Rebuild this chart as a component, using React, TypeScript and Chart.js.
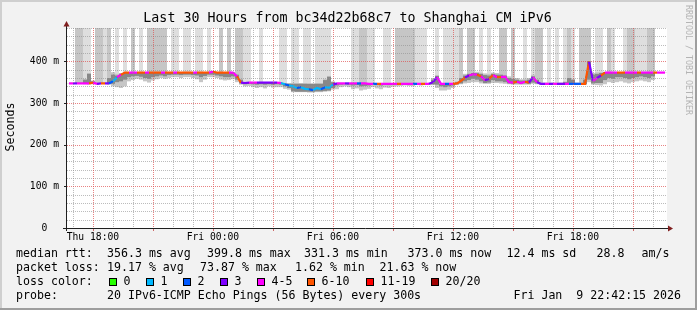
import React, { useEffect, useRef } from 'react';
import { Chart, registerables } from 'chart.js';

Chart.register(...registerables);

const FONT = "'DejaVu Sans Mono', 'Liberation Mono', monospace";

// ---- time axis (minutes since window start, Thu 16:42:15) ----
const windowMinutes = 1800;
const binMinutes = 12;
const firstHourOffset = 17.75; // Thu 17:00
const tickLabels = ['Thu 18:00', 'Fri 00:00', 'Fri 06:00', 'Fri 12:00', 'Fri 18:00'];
const tickLabelHours = [1, 7, 13, 19, 25];

// ---- values (ms) per 12-minute bin ----
const median = [
  347,347,347,347,347,347,349,346,347,347,347,352,362,368,373,
  373,373,373,373,373,373,373,373,373,373,373,373,373,373,373,
  373,373,373,373,373,373,375,373,373,373,373,373,364,349,348,
  349,349,349,349,349,349,349,349,348,345,342,340,336,338,334,
  333,331,336,333,338,337,344,347,347,347,347,347,347,347,347,
  346,346,346,346,346,346,346,346,346,346,346,346,346,346,346,
  346,350,362,346,346,346,346,347,353,361,366,369,368,364,355,
  358,367,362,362,363,350,349,351,348,351,349,362,350,346,346,
  346,346,346,346,346,346,346,346,346,346,399,353,360,366,373,
  373,373,373,373,373,373,373,373,373,373,373,373,373,373,373,
];

// lost pings (of 20) per bin
const loss = [
  7,4,3,4,4,4,7,4,3,7,3,2,1,4,7,
  7,4,4,7,7,4,7,7,7,4,7,7,4,7,7,
  7,7,4,7,7,7,4,7,7,7,7,4,4,7,3,
  3,4,4,3,3,3,3,3,4,1,2,1,1,2,1,
  1,2,1,1,2,1,1,3,4,4,3,4,4,2,4,
  4,4,2,7,4,4,4,4,7,4,4,4,2,4,7,
  4,3,3,4,4,2,4,7,7,7,3,4,4,7,4,
  3,7,4,7,4,4,4,7,4,4,7,3,4,3,3,
  4,3,4,3,3,4,2,2,2,7,7,3,4,3,7,
  4,4,4,7,7,4,4,4,7,4,4,4,7,4,4,
];

// pings beyond the top of the graph: 0 none, 1 few, 2 many
const offTop = [
  0,0,2,2,1,1,0,2,2,1,2,0,1,0,1,
  0,2,0,1,0,2,2,2,2,2,0,1,1,0,1,
  1,0,1,1,0,1,0,0,2,0,2,0,2,2,1,
  1,0,0,1,0,0,0,0,1,1,0,1,1,0,1,
  1,0,1,1,1,1,0,0,0,0,0,1,1,2,2,
  1,1,0,0,1,1,0,2,2,2,2,2,1,1,1,
  0,0,1,0,1,1,1,1,2,0,2,2,0,1,0,
  1,0,0,2,2,0,2,0,0,1,0,1,2,2,0,
  1,0,1,0,1,2,1,0,2,2,2,0,1,1,0,
  2,1,0,0,1,2,2,1,1,1,2,2,0,0,0,
];

const smokeLo = [
  346,346,346,346,345,344,345,345,346,346,344,340,338,336,340,
  352,355,358,356,352,349,354,357,360,358,360,362,362,360,362,
  362,360,357,350,356,362,362,360,356,354,355,357,350,344,340,
  341,338,336,338,335,340,337,338,338,334,332,326,326,326,326,
  325,325,326,326,327,328,332,333,338,340,338,333,335,330,332,
  334,338,335,333,337,336,339,340,341,342,341,340,343,342,343,
  343,343,336,330,330,332,336,343,345,347,348,350,350,347,346,
  346,348,348,347,346,345,344,344,344,344,344,346,345,344,344,
  344,344,344,344,344,344,344,344,344,344,350,344,343,342,345,
  350,348,350,352,349,347,350,352,354,352,350,355,372,372,372,
];

const coreLo = [
  347,347,347,347,346,346,347,346,347,347,346,346,350,352,356,
  362,364,365,363,360,358,362,364,366,364,367,368,368,367,368,
  368,367,366,362,365,368,368,366,364,362,362,364,356,347,345,
  346,345,344,345,344,345,344,345,344,340,336,328,327,327,327,
  327,327,328,328,329,330,336,342,344,345,344,342,343,340,341,
  342,344,343,342,344,343,344,345,345,345,345,345,345,345,345,
  345,345,344,340,338,340,342,345,347,352,355,358,356,352,348,
  349,355,352,352,350,347,346,347,346,347,346,349,347,345,345,
  345,345,345,345,345,345,345,345,345,345,356,347,348,348,355,
  360,358,362,362,360,357,360,362,364,362,360,364,373,373,373,
];

const coreHi = [
  347,347,347,347,356,370,352,346,347,347,360,368,366,370,373,
  373,373,373,373,373,373,373,373,373,373,373,373,373,373,373,
  373,373,373,373,373,373,375,373,373,373,373,373,368,356,349,
  349,349,349,349,349,349,349,349,348,346,346,346,346,346,346,
  346,346,346,346,355,363,350,347,347,347,347,347,347,347,347,
  346,346,346,346,346,346,346,346,346,346,346,346,346,346,346,
  346,356,365,346,346,346,346,350,360,366,370,372,372,370,367,
  366,370,368,368,366,360,358,356,354,354,356,364,356,348,348,
  348,348,348,348,350,360,356,348,348,356,400,368,370,372,374,
  373,373,373,373,373,373,373,373,373,373,373,373,373,373,373,
];

const smokeHi = [
  347,347,347,347,358,372,354,346,347,347,372,374,370,372,374,
  374,374,374,374,374,374,374,374,374,374,374,374,374,374,374,
  374,374,374,374,374,374,376,374,374,374,374,374,372,360,350,
  350,350,350,350,350,350,350,350,349,348,348,348,348,348,348,
  347,347,348,348,358,365,352,348,348,348,348,348,348,348,348,
  347,347,347,347,347,347,347,347,347,347,347,347,347,347,347,
  347,360,367,347,347,347,347,352,364,370,373,375,375,373,371,
  370,373,372,371,369,364,362,360,357,358,360,368,360,350,349,
  349,349,349,349,352,362,358,349,349,360,402,372,374,375,375,
  374,374,374,374,374,374,374,374,374,374,374,374,373,373,373,
];

const yMax = 480;
const yStep = 20;

const lossColor = (n: number) => {
  if (n <= 0) return '#26ff00';
  if (n === 1) return '#00b8ff';
  if (n === 2) return '#0059ff';
  if (n === 3) return '#7e00ff';
  if (n <= 5) return '#ff00ff';
  if (n <= 10) return '#ff5500';
  if (n <= 19) return '#ff0000';
  return '#a00000';
};

const legendBoxes = [
  { label: '0', color: '#26ff00', x: 109 },
  { label: '1', color: '#00b8ff', x: 146 },
  { label: '2', color: '#0059ff', x: 183 },
  { label: '3', color: '#7e00ff', x: 220 },
  { label: '4-5', color: '#ff00ff', x: 257 },
  { label: '6-10', color: '#ff5500', x: 307 },
  { label: '11-19', color: '#ff0000', x: 366 },
  { label: '20/20', color: '#a00000', x: 431 },
];

const xs = median.map((_, i) => i * binMinutes + binMinutes / 2);

const hourTicks: number[] = [];
for (let t = firstHourOffset; t <= windowMinutes; t += 60) hourTicks.push(t);
const hourIndex = (v: number) => Math.round((v - firstHourOffset) / 60);
const isMajorHour = (v: number) => (hourIndex(v) - 1) % 3 === 0;

const MINOR = 'rgba(143,143,143,0.6)';
const MAJOR = 'rgba(222,79,79,0.7)';

const framePlugin = {
  id: 'frame',
  beforeDraw(chart: any) {
    const { ctx, chartArea: a, width, height } = chart;
    ctx.save();
    ctx.fillStyle = '#f2f2f2';
    ctx.fillRect(0, 0, width, height);
    ctx.fillStyle = '#cfcfcf';
    ctx.fillRect(0, 0, width, 2);
    ctx.fillRect(0, 0, 2, height);
    ctx.fillStyle = '#9e9e9e';
    ctx.fillRect(0, height - 2, width, 2);
    ctx.fillRect(width - 2, 0, 2, height);
    ctx.fillStyle = '#ffffff';
    ctx.fillRect(a.left, a.top, a.right - a.left, a.bottom - a.top);
    ctx.restore();
  },
  afterDatasetsDraw(chart: any) {
    // dotted rrdtool-style grid (1 on / 1 off), drawn over the smoke
    const { ctx, chartArea: a, scales } = chart;
    const xS = scales.x;
    const yS = scales.y;
    const top = Math.round(a.top);
    const bottom = Math.round(a.bottom);
    const left = Math.round(a.left);
    const right = Math.round(a.right);
    ctx.save();
    const vLine = (px: number) => {
      for (let y = top; y < bottom; y += 2) ctx.fillRect(px, y, 1, 1);
    };
    const hLine = (py: number) => {
      for (let x = left; x < right; x += 2) ctx.fillRect(x, py, 1, 1);
    };
    [false, true].forEach((major) => {
      ctx.fillStyle = major ? MAJOR : MINOR;
      hourTicks.forEach((v) => {
        if (isMajorHour(v) === major) vLine(Math.round(xS.getPixelForValue(v)));
      });
      for (let v = yStep; v <= yMax; v += yStep) {
        if ((v % 100 === 0) === major) hLine(Math.round(yS.getPixelForValue(v)));
      }
    });
    // small tick marks on the axes
    ctx.fillStyle = 'rgba(200,80,80,0.85)';
    hourTicks.forEach((v) => {
      if (isMajorHour(v)) ctx.fillRect(Math.round(xS.getPixelForValue(v)), bottom, 1, 3);
    });
    ctx.fillStyle = '#1f1f1f';
    for (let v = 100; v <= yMax; v += 100) {
      ctx.fillRect(left - 3, Math.round(yS.getPixelForValue(v)), 3, 1);
    }
    ctx.restore();
  },
  afterDraw(chart: any) {
    const { ctx, chartArea: a } = chart;
    ctx.save();
    // axes
    ctx.strokeStyle = '#1f1f1f';
    ctx.lineWidth = 1;
    ctx.beginPath();
    ctx.moveTo(a.left - 0.5, a.bottom + 3);
    ctx.lineTo(a.left - 0.5, a.top - 2);
    ctx.moveTo(a.left - 4, a.bottom + 0.5);
    ctx.lineTo(a.right + 1, a.bottom + 0.5);
    ctx.stroke();
    ctx.fillStyle = '#801f1f';
    ctx.beginPath();
    ctx.moveTo(a.left - 3.5, a.top - 1.5);
    ctx.lineTo(a.left + 2.5, a.top - 1.5);
    ctx.lineTo(a.left - 0.5, a.top - 7);
    ctx.closePath();
    ctx.fill();
    ctx.beginPath();
    ctx.moveTo(a.right + 1, a.bottom - 2.5);
    ctx.lineTo(a.right + 1, a.bottom + 3.5);
    ctx.lineTo(a.right + 6, a.bottom + 0.5);
    ctx.closePath();
    ctx.fill();

    // title
    ctx.fillStyle = '#000';
    ctx.textBaseline = 'middle';
    ctx.textAlign = 'center';
    ctx.font = `13.3px ${FONT}`;
    ctx.fillText('Last 30 Hours from bc34d22b68c7 to Shanghai CM iPv6', 347.5, 19);

    // y title
    ctx.save();
    ctx.translate(10.5, 127);
    ctx.rotate(-Math.PI / 2);
    ctx.font = `11.6px ${FONT}`;
    ctx.fillText('Seconds', 0, 0);
    ctx.restore();

    // watermark
    ctx.save();
    ctx.translate(688.5, 60);
    ctx.rotate(Math.PI / 2);
    ctx.font = `8.3px ${FONT}`;
    ctx.fillStyle = '#b4b4b4';
    ctx.fillText('RRDTOOL / TOBI OETIKER', 0, 0);
    ctx.restore();

    // legend
    ctx.textAlign = 'left';
    ctx.font = `11.6px ${FONT}`;
    ctx.fillStyle = '#000';
    const row = (y: number, parts: [string, number][]) => parts.forEach(([t, x]) => ctx.fillText(t, x, y));
    row(254, [['median rtt:', 16], ['356.3 ms avg', 107], ['399.8 ms max', 207], ['331.3 ms min', 304], ['373.0 ms now', 407.5], ['12.4 ms sd', 506.5], ['28.8', 596.5], ['am/s', 641.5]]);
    row(268, [['packet loss:', 16], ['19.17 % avg', 107], ['73.87 % max', 200], ['1.62 % min', 295], ['21.63 % now', 379.5]]);
    row(282, [['loss color:', 16]]);
    legendBoxes.forEach((b) => {
      ctx.fillStyle = b.color;
      ctx.fillRect(b.x, 278, 8, 8);
      ctx.strokeStyle = '#000';
      ctx.strokeRect(b.x + 0.5, 278.5, 7, 7);
      ctx.fillStyle = '#000';
      ctx.fillText(b.label, b.x + 14.5, 282);
    });
    row(296, [['probe:', 16], ['20 IPv6-ICMP Echo Pings (56 Bytes) every 300s', 107]]);
    ctx.textAlign = 'right';
    ctx.fillText('Fri Jan  9 22:42:15 2026', 681, 296);
    ctx.restore();
  },
};

const floatBars = (ranges: ([number, number] | null)[], color: string, order: number) => ({
  type: 'bar' as const,
  data: ranges
    .map((r, i) => (r ? { x: xs[i], y: r } : null))
    .filter((d) => d !== null),
  backgroundColor: color,
  borderWidth: 0,
  barThickness: 4,
  grouped: false,
  inflateAmount: 0,
  order,
});

export default function App() {
  const ref = useRef<HTMLCanvasElement>(null);

  useEffect(() => {
    document.body.style.margin = '0';
    const canvas = ref.current;
    if (!canvas) return;

    const tallAny = median.map((m, i) => (offTop[i] >= 1 ? ([m, yMax + 10] as [number, number]) : null));
    const tallMany = median.map((m, i) => (offTop[i] >= 2 ? ([m, yMax + 10] as [number, number]) : null));
    const light = smokeLo.map((lo, i) => (smokeHi[i] > lo ? ([lo, smokeHi[i]] as [number, number]) : null));
    const core = coreLo.map((lo, i) => (coreHi[i] > lo ? ([lo, coreHi[i]] as [number, number]) : null));
    const medPts = median.map((m, i) => ({ x: xs[i], y: m }));

    const chart = new Chart(canvas, {
      type: 'bar',
      data: {
        datasets: [
          {
            type: 'line',
            data: medPts,
            borderColor: '#ff00ff',
            borderWidth: 2.2,
            pointRadius: 0,
            tension: 0,
            segment: { borderColor: (c: any) => lossColor(loss[c.p1DataIndex]) },
            order: 0,
          } as any,
          {
            type: 'line',
            data: medPts,
            borderColor: '#202020',
            borderWidth: 1,
            pointRadius: 0,
            tension: 0,
            order: 1,
          } as any,
          floatBars(core, '#888888', 2) as any,
          floatBars(light, '#c6c6c6', 3) as any,
          floatBars(tallMany, '#c6c6c6', 4) as any,
          floatBars(tallAny, '#dedede', 5) as any,
        ],
      },
      options: {
        responsive: false,
        animation: false,
        devicePixelRatio: 1,
        events: [],
        layout: { padding: { left: 0, top: 28, right: 30, bottom: 0 } },
        plugins: { legend: { display: false }, tooltip: { enabled: false }, title: { display: false } },
        scales: {
          x: {
            type: 'linear',
            min: 0,
            max: windowMinutes,
            offset: false,
            afterFit: (s: any) => { s.height = 82; },
            afterBuildTicks: (s: any) => { s.ticks = hourTicks.map((v) => ({ value: v })); },
            ticks: {
              autoSkip: false,
              maxRotation: 0,
              minRotation: 0,
              padding: 1,
              color: '#000',
              font: { family: FONT, size: 9.7 },
              callback: (v: any) => {
                const k = tickLabelHours.indexOf(hourIndex(Number(v)));
                return k >= 0 ? tickLabels[k] : '';
              },
            },
            grid: { offset: false, tickLength: 3, color: 'rgba(0,0,0,0)', tickColor: 'rgba(0,0,0,0)' },
            border: { display: false },
          },
          y: {
            type: 'linear',
            min: 0,
            max: yMax,
            afterFit: (s: any) => { s.width = 67; },
            ticks: {
              stepSize: yStep,
              autoSkip: false,
              padding: 5,
              color: '#000',
              font: { family: FONT, size: 9.7 },
              callback: (v: any) => {
                const n = Number(v);
                if (n % 100 !== 0) return '';
                return n === 0 ? '0  ' : `${n} m`;
              },
            },
            grid: { tickLength: 3, color: 'rgba(0,0,0,0)', tickColor: 'rgba(0,0,0,0)' },
            border: { display: false },
          },
        },
      } as any,
      plugins: [framePlugin],
    });

    return () => chart.destroy();
  }, []);

  return (
    <canvas
      ref={ref}
      width={697}
      height={310}
      style={{ display: 'block', position: 'fixed', left: 0, top: 0, width: 697, height: 310 }}
    />
  );
}
